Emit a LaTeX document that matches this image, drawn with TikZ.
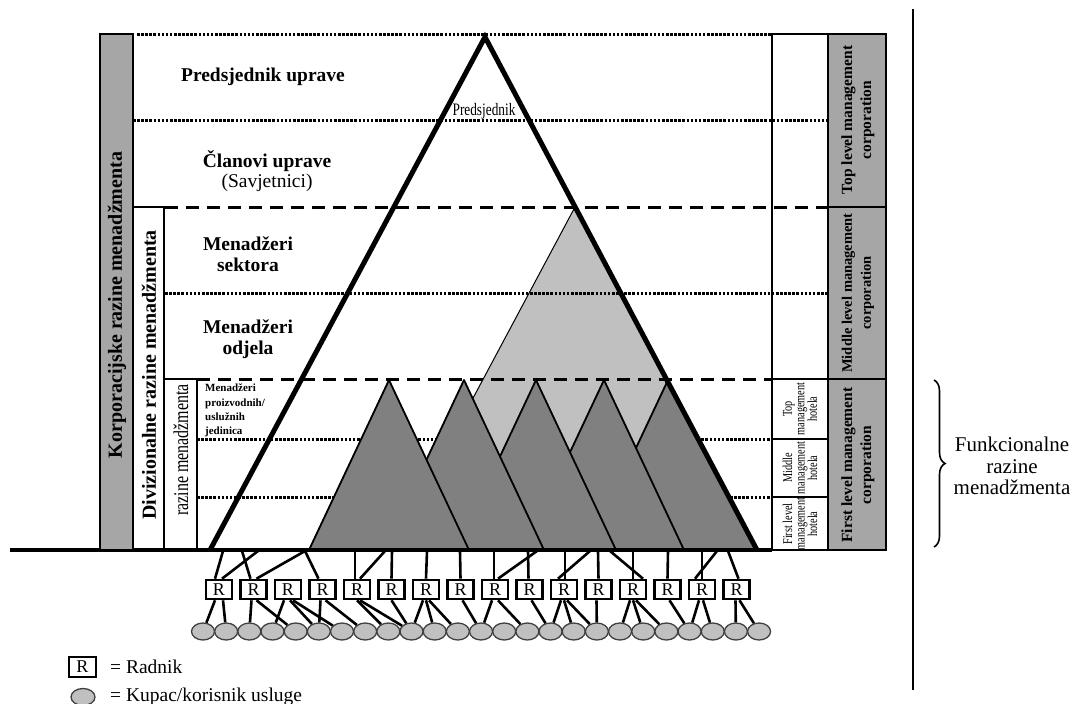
\documentclass[tikz,border=0pt]{standalone}
\usepackage{fontspec}
\setmainfont{Liberation Serif}
\newfontfamily\narrowfont[FakeStretch=0.76]{Liberation Serif}
\usetikzlibrary{shapes.geometric,decorations.pathreplacing}
\definecolor{bargray}{HTML}{A6A6A6}
\definecolor{paletri}{HTML}{C0C0C0}
\definecolor{deeptri}{HTML}{808080}
\begin{document}
\begin{tikzpicture}[x=1pt,y=-1pt,
  dotrule/.style={line width=3pt, dash pattern=on 2.6pt off 1.5pt},
  dashrule/.style={line width=3pt, dash pattern=on 13pt off 8pt},
  cellframe/.style={draw=black, line width=2.6pt},
  worker/.style={draw=black, line width=2.6pt, fill=white, minimum width=26pt,
    minimum height=19pt, inner sep=0pt, font=\fontsize{18}{18}\selectfont},
  client/.style={ellipse, draw=black!75, line width=1.3pt, fill=paletri,
    minimum width=23pt, minimum height=17pt, inner sep=0pt},
  link/.style={line width=2.6pt},
  lvl/.style={inner sep=0pt, align=center},
]
\fill[white] (0,0) rectangle (1074,704);
\useasboundingbox (0,0) rectangle (1074,704);

% lower level rules (partly covered by the unit triangles)
\draw[dotrule] (197,439) -- (772,439);
\draw[dotrule] (197,497) -- (772,497);

% sector triangle
\filldraw[fill=paletri, draw=black, line width=1pt] (575,207) -- (392,550) -- (757,550) -- cycle;

% upper level rules
\draw[dotrule] (137,34) -- (772,34);
\draw[dotrule] (133,120) -- (828,120);
\draw[dashrule] (165,207) -- (828,207);
\draw[dotrule] (165,293) -- (828,293);
\draw[dashrule] (197,379) -- (772,379);

% unit triangles, drawn right to left
\foreach \a/\l/\r in {668/588/757, 604/524/684, 536/456/616, 464/384/544, 389/309/469}
  \filldraw[fill=deeptri, draw=black, line width=1.8pt, line join=round]
    (\a,380) -- (\l,550) -- (\r,550) -- cycle;

% main pyramid
\draw[line width=5pt, line join=miter] (210,550) -- (485,37) -- (757,550);
\draw[line width=3.5pt] (10,550) -- (772,550);

% left level bars
\draw[cellframe, fill=bargray] (100,34) rectangle (133,550);
\draw[cellframe] (133,207) rectangle (164,550);
\draw[cellframe] (164,379) rectangle (197,550);

% right level columns
\draw[cellframe] (772,34) rectangle (828,550);
\draw[cellframe] (772,379) -- (828,379);
\draw[cellframe] (772,439) -- (828,439);
\draw[cellframe] (772,497) -- (828,497);
\draw[cellframe, fill=bargray] (828,34) rectangle (886,550);
\draw[cellframe] (828,207) -- (886,207);
\draw[cellframe] (828,379) -- (886,379);

% separator
\draw[line width=2.4pt] (913,9) -- (913,690);

% level names
\node[lvl, font=\bfseries\fontsize{19.5}{20.5}\selectfont] (pu) at (263,77) {Predsjednik uprave};
\node[lvl, font=\fontsize{19.5}{20.5}\selectfont] (cu) at (267,171) {\textbf{Članovi uprave}\\(Savjetnici)};
\node[lvl, font=\bfseries\fontsize{19.5}{20.5}\selectfont] (ms) at (248,254) {Menadžeri\\sektora};
\node[lvl, font=\bfseries\fontsize{19.5}{20.5}\selectfont] (mo) at (248,339) {Menadžeri\\odjela};
\node[inner sep=0pt, align=left, anchor=north west, font=\bfseries\fontsize{11}{14.3}\selectfont] (mp) at (205,384) {Menadžeri\\proizvodnih/\\uslužnih\\jedinica};
\node[inner sep=0pt, font=\narrowfont\fontsize{17.5}{17.5}\selectfont] (pr) at (484,111) {Predsjednik};

% vertical bar titles
\node[rotate=90, inner sep=0pt, font=\bfseries\fontsize{20}{20}\selectfont] (kr) at (117,305) {Korporacijske razine menadžmenta};
\node[rotate=90, inner sep=0pt, font=\bfseries\fontsize{20}{20}\selectfont] (dr) at (149,375) {Divizionalne razine menadžmenta};
\node[rotate=90, inner sep=0pt, font=\narrowfont\fontsize{21}{21}\selectfont] (rm) at (181,450) {razine menadžmenta};

\node[rotate=90, lvl, font=\bfseries\fontsize{15.5}{19}\selectfont] (tl) at (858,120) {Top level management\\corporation};
\node[rotate=90, lvl, font=\bfseries\fontsize{14.5}{19}\selectfont] (ml) at (858,293) {Middle level management\\corporation};
\node[rotate=90, lvl, font=\bfseries\fontsize{15.5}{19}\selectfont] (fl) at (858,465) {First level management\\corporation};

\node[rotate=90, lvl, font=\narrowfont\fontsize{13.5}{12.5}\selectfont] (th) at (800,409) {Top\\management\\hotela};
\node[rotate=90, lvl, font=\narrowfont\fontsize{13.5}{12.5}\selectfont] (mh) at (800,468) {Middle\\management\\hotela};
\node[rotate=90, lvl, font=\narrowfont\fontsize{13.5}{12.5}\selectfont] (fh) at (800,524) {First level\\management\\hotela};

% functional levels
\draw[line width=1.6pt, decorate, decoration={brace, amplitude=11pt}] (934,380) -- (934,547);
\node[lvl, font=\fontsize{21}{21.5}\selectfont] (fr) at (1012,466) {Funkcionalne\\razine\\menadžmenta};

% workers and clients
\foreach \i in {1,...,16}
  \node[worker] (r\i) at ({219+34.5*(\i-1)},589.5) {R};
\foreach \j in {0,...,24}
  \node[client] (e\j) at ({203+23.17*\j},631.5) {};

\foreach \bx/\tgt/\dx [count=\k] in {223/r1/-4, 258/r1/3, 242/r2/-3, 305/r2/3, 305/r4/-4,
    355/r5/-2, 385/r5/3, 392/r6/0, 427/r7/0, 460/r8/0, 494/r9/-1, 537/r9/3, 528/r10/-1,
    565/r11/1, 590/r11/-6, 598/r12/0, 610/r13/10, 633/r13/0, 668/r14/0, 702/r15/0,
    717/r15/-7, 728/r16/2} {
  \coordinate (drop\k) at (\bx,551);
  \draw[link] (drop\k) -- ([xshift=\dx pt]\tgt.north);
}

\foreach \src/\dx/\dst in {r1/-4/e0, r1/4/e1, r2/-2/e2, r2/3/e4, r3/-4/e3, r3/2/e5, r3/5/e6,
    r4/-2/e5, r4/3/e7, r5/0/e8, r5/3/e9, r6/0/e9, r7/-3/e9, r7/0/e10, r7/3/e11, r8/2/e12,
    r9/-3/e12, r9/3/e14, r10/2/e15, r11/-3/e15, r11/0/e16, r11/3/e17, r12/-2/e17,
    r13/-3/e18, r13/0/e19, r13/3/e20, r14/2/e21, r15/-3/e21, r15/1/e22, r16/-1/e23, r16/3/e24}
  \draw[link] ([xshift=\dx pt]\src.south) -- (\dst);

% legend
\node[worker, font=\fontsize{18}{18}\selectfont, minimum width=27pt, minimum height=20pt] (legR) at (82.5,667) {R};
\node[inner sep=0pt, anchor=base west, font=\fontsize{19.5}{19.5}\selectfont] (legRtxt) at (110,673.5) {= Radnik};
\node[client, minimum width=24pt] (legK) at (83,697) {};
\node[inner sep=0pt, anchor=base west, font=\fontsize{19.5}{19.5}\selectfont] (legKtxt) at (110,701) {= Kupac/korisnik usluge};
\end{tikzpicture}
\end{document}
